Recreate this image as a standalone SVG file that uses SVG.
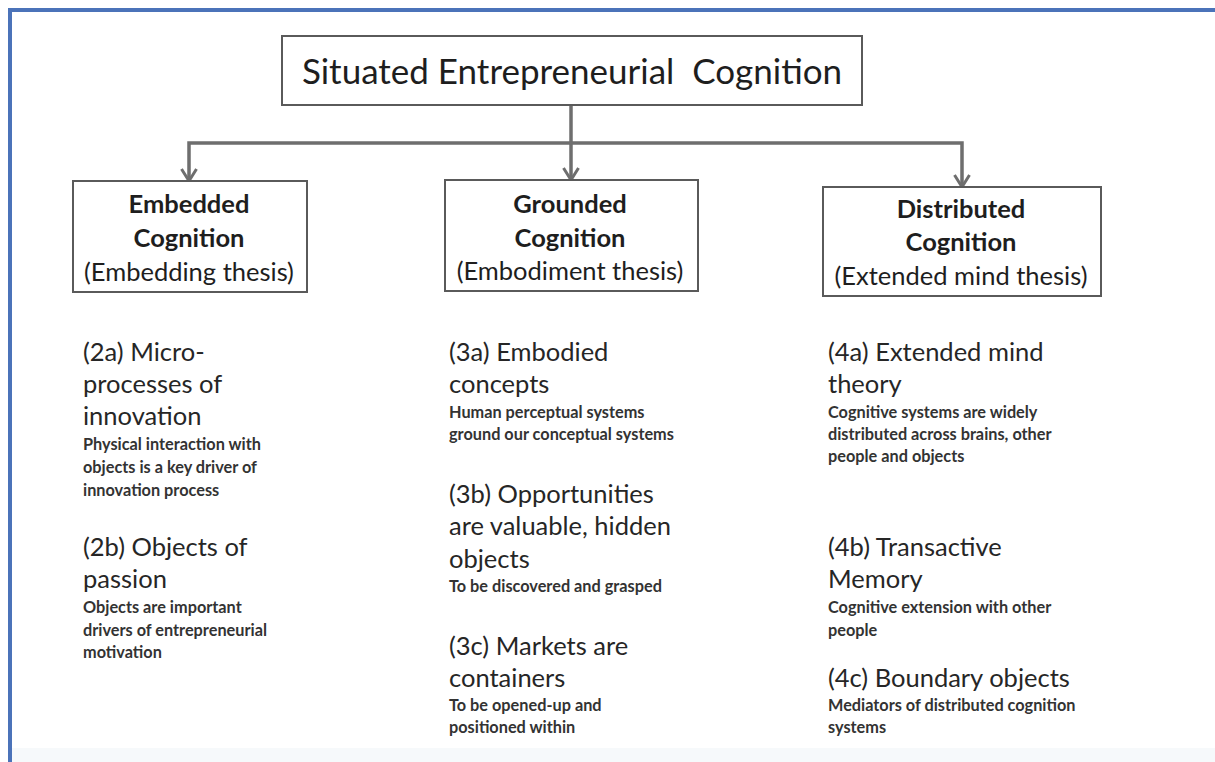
<svg xmlns="http://www.w3.org/2000/svg" width="1215" height="762" viewBox="0 0 1215 762">
  <style>
    .frame { fill: none; stroke: #4b73b9; stroke-width: 4; }
    .box { fill: #ffffff; stroke: #5a5a5a; stroke-width: 2; }
    .conn { fill: none; stroke: #6e6e6e; stroke-width: 3.5; }
    text { font-family: Lato, "Open Sans", "Liberation Sans", sans-serif; fill: #1e1e1e; }
    .title { font-size: 35px; text-anchor: middle; white-space: pre; }
    .head { font-size: 25.5px; font-weight: bold; text-anchor: middle; }
    .sub { font-size: 25.5px; text-anchor: middle; }
    .item { font-size: 25.5px; fill: #262626; }
    .note { font-size: 16.3px; font-weight: bold; fill: #333333; }
  </style>
  <defs>
    <marker id="chevron" markerUnits="userSpaceOnUse" markerWidth="18" markerHeight="18" viewBox="0 0 18 18" refX="15" refY="9" orient="auto">
      <path d="M3,1.5 L15,9 L3,16.5" fill="none" stroke="#6e6e6e" stroke-width="3"/>
    </marker>
  </defs>

  <!-- page background and frame -->
  <rect x="0" y="0" width="1215" height="762" fill="#ffffff"/>
  <rect x="12" y="748" width="1203" height="14" fill="#f6f9fb"/>
  <path class="frame" d="M10,762 V10 H1215"/>

  <!-- connectors -->
  <g id="connectors">
    <path class="conn" d="M571,106 V180" marker-end="url(#chevron)"/>
    <path class="conn" d="M571,143 H189 V181" marker-end="url(#chevron)"/>
    <path class="conn" d="M571,143 H962 V187" marker-end="url(#chevron)"/>
  </g>

  <!-- root node -->
  <g id="situated-cognition">
    <rect class="box" x="282" y="36" width="580" height="69"/>
    <text class="title" x="572" y="84" xml:space="preserve">Situated Entrepreneurial  Cognition</text>
  </g>

  <!-- second level -->
  <g id="embedded-cognition">
    <rect class="box" x="73" y="181" width="234" height="111"/>
    <text class="head" x="189" y="213">Embedded</text>
    <text class="head" x="189" y="247">Cognition</text>
    <text class="sub" x="189" y="281">(Embedding thesis)</text>
  </g>
  <g id="grounded-cognition">
    <rect class="box" x="445" y="180" width="253" height="111"/>
    <text class="head" x="570" y="213">Grounded</text>
    <text class="head" x="570" y="247">Cognition</text>
    <text class="sub" x="570" y="280">(Embodiment thesis)</text>
  </g>
  <g id="distributed-cognition">
    <rect class="box" x="823" y="187" width="278" height="109"/>
    <text class="head" x="961" y="218">Distributed</text>
    <text class="head" x="961" y="251">Cognition</text>
    <text class="sub" x="961" y="285">(Extended mind thesis)</text>
  </g>

  <!-- embedded cognition items -->
  <g id="item-2a">
    <text class="item" x="83" y="361">(2a) Micro-</text>
    <text class="item" x="83" y="393">processes of</text>
    <text class="item" x="83" y="425">innovation</text>
    <text class="note" x="83" y="450">Physical interaction with</text>
    <text class="note" x="83" y="473">objects is a key driver of</text>
    <text class="note" x="83" y="496">innovation process</text>
  </g>
  <g id="item-2b">
    <text class="item" x="83" y="556">(2b) Objects of</text>
    <text class="item" x="83" y="588">passion</text>
    <text class="note" x="83" y="613">Objects are important</text>
    <text class="note" x="83" y="636">drivers of entrepreneurial</text>
    <text class="note" x="83" y="658">motivation</text>
  </g>

  <!-- grounded cognition items -->
  <g id="item-3a">
    <text class="item" x="449" y="361">(3a) Embodied</text>
    <text class="item" x="449" y="393">concepts</text>
    <text class="note" x="449" y="418">Human perceptual systems</text>
    <text class="note" x="449" y="440">ground our conceptual systems</text>
  </g>
  <g id="item-3b">
    <text class="item" x="449" y="503">(3b) Opportunities</text>
    <text class="item" x="449" y="535">are valuable, hidden</text>
    <text class="item" x="449" y="568">objects</text>
    <text class="note" x="449" y="592">To be discovered and grasped</text>
  </g>
  <g id="item-3c">
    <text class="item" x="449" y="655">(3c) Markets are</text>
    <text class="item" x="449" y="687">containers</text>
    <text class="note" x="449" y="711">To be opened-up and</text>
    <text class="note" x="449" y="733">positioned within</text>
  </g>

  <!-- distributed cognition items -->
  <g id="item-4a">
    <text class="item" x="828" y="361">(4a) Extended mind</text>
    <text class="item" x="828" y="393">theory</text>
    <text class="note" x="828" y="418">Cognitive systems are widely</text>
    <text class="note" x="828" y="440">distributed across brains, other</text>
    <text class="note" x="828" y="462">people and objects</text>
  </g>
  <g id="item-4b">
    <text class="item" x="828" y="556">(4b) Transactive</text>
    <text class="item" x="828" y="588">Memory</text>
    <text class="note" x="828" y="613">Cognitive extension with other</text>
    <text class="note" x="828" y="636">people</text>
  </g>
  <g id="item-4c">
    <text class="item" x="828" y="687">(4c) Boundary objects</text>
    <text class="note" x="828" y="711">Mediators of distributed cognition</text>
    <text class="note" x="828" y="733">systems</text>
  </g>
</svg>
